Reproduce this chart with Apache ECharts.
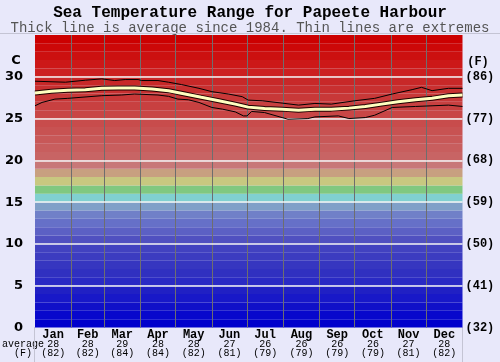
<!DOCTYPE html>
<html>
<head>
<meta charset="utf-8">
<script src="https://cdn.jsdelivr.net/npm/echarts@6/dist/echarts.min.js"></script>
<style>
html,body{margin:0;padding:0;background:#e8e8fa;}
#chart{width:500px;height:362px;}
</style>
</head>
<body>
<div id="chart"></div>
<script>
// ---- data ----
const months = ['Jan','Feb','Mar','Apr','May','Jun','Jul','Aug','Sep','Oct','Nov','Dec'];
const monthDays = [31,28,31,30,31,30,31,31,30,31,30,31];
const avgC = [28,28,29,28,28,27,26,26,26,26,27,28];
const avgF = [82,82,84,84,82,81,79,79,79,79,81,82];
const cTickLabels = ['0','5','10','15','20','25','30'];
const fTickLabels = ['(32)','(41)','(50)','(59)','(68)','(77)','(86)'];

const upperDay  = [0,26,43,57,68,77,88,91,105,114,125,140,151,165,177,182,194,211,225,239,253,273,290,305,322,330,339,353,365];
const upperTemp = [29.47,29.35,29.59,29.75,29.55,29.67,29.67,29.55,29.55,29.35,29.07,28.62,28.22,27.94,27.62,27.21,27.13,26.85,26.61,26.81,26.73,27.13,27.42,27.94,28.46,28.74,28.34,28.62,28.62];

const meanDay  = [0,14,28,43,57,71,85,100,114,128,142,157,171,182,196,211,225,239,253,268,282,296,310,325,339,353,365];
const meanTemp = [28.06,28.26,28.38,28.46,28.62,28.66,28.66,28.54,28.34,27.94,27.54,27.13,26.73,26.37,26.21,26.13,26.01,26.13,26.13,26.25,26.45,26.73,27.01,27.25,27.42,27.74,27.82];

const lowerDay  = [0,6,17,28,57,74,85,105,114,122,131,140,151,160,171,178,181,185,196,211,216,233,239,259,268,282,290,305,325,339,353,365];
const lowerTemp = [26.53,26.93,27.33,27.42,27.74,27.82,27.94,27.82,27.66,27.33,27.25,26.93,26.33,26.13,25.80,25.32,25.32,25.85,25.72,25.12,24.92,25.00,25.20,25.32,25.00,25.12,25.40,26.33,26.45,26.53,26.61,26.45];

// ---- styles ----
const bandColors = [
 '#0000cc','#0808cc','#1010c8','#1818c8','#2020c4',
 '#2a2ac4','#3030c0','#3636c0','#3c3cc0','#4242c0',
 '#5050c0','#5c60c4','#6670c8','#7080c8','#80a0c8',
 '#80d0d0','#80c880','#c8c880','#c8a080','#c87878',
 '#c86464','#c85e5e','#c85858','#c85252','#c84c4c',
 '#c84646','#c84040','#c83838','#c83030','#c82828',
 '#cc2020','#cc1818','#cc1010','#cc0808','#cc0000'
];
const MONO = "'Liberation Mono','Courier New',monospace";
const SANS = "'DejaVu Sans',sans-serif";

const bounds = [];
const mids = [];
let acc = 0;
monthDays.forEach((d,i)=>{ mids.push(acc + d/2); acc += d; if (i < 11) bounds.push(acc); });

const zip = (a,b)=>a.map((v,i)=>[v,b[i]]);

const chart = echarts.init(document.getElementById('chart'), null, {renderer:'canvas'});
const option = {
  backgroundColor:'#e8e8fa',
  animation:false,
  grid:{left:35, right:37.5, top:35, bottom:34.5, containLabel:false},
  xAxis:{
    type:'value', min:0, max:365,
    axisLine:{show:false}, axisTick:{show:false}, splitLine:{show:false},
    axisLabel:{
      customValues: mids,
      margin:2,
      formatter:(v)=>{
        const i = mids.findIndex(m=>Math.abs(m-v)<0.01);
        if (i<0) return '';
        return '{m|'+months[i]+'}\n{v|'+avgC[i]+'}\n{v|('+avgF[i]+')}';
      },
      rich:{
        m:{fontFamily:MONO, fontWeight:'bold', fontSize:12, color:'#000', lineHeight:10},
        v:{fontFamily:MONO, fontSize:10, color:'#000', lineHeight:9.5}
      }
    }
  },
  yAxis:[{
    type:'value', min:0, max:35, interval:5, position:'left',
    axisLine:{show:false}, axisTick:{show:false}, splitLine:{show:false},
    axisLabel:{formatter:(v)=> (v/5<cTickLabels.length ? cTickLabels[v/5] : ''), fontFamily:SANS, fontWeight:'bold', fontSize:13, color:'#000', margin:12}
  },{
    type:'value', min:0, max:35, interval:5, position:'right',
    axisLine:{show:false}, axisTick:{show:false}, splitLine:{show:false},
    axisLabel:{formatter:(v)=> (v/5<fTickLabels.length ? fTickLabels[v/5] : ''), fontFamily:MONO, fontWeight:'bold', fontSize:12, color:'#000', margin:3}
  }],
  series:[
    {
      type:'line', z:1, silent:true, symbol:'none', data:[[0,0],[365,0]], lineStyle:{width:0, opacity:0},
      markArea:{silent:true, data: bandColors.map((c,i)=>[{yAxis:i, itemStyle:{color:c}},{yAxis:i+1}])}
    },
    {
      type:'line', z:2, silent:true, symbol:'none', data:[[0,0],[365,0]], lineStyle:{width:0, opacity:0},
      markLine:{silent:true, symbol:'none', label:{show:false}, animation:false,
        data: [
          ...bounds.map(b=>({xAxis:b, lineStyle:{color:'#6e6e6e', width:1, type:'solid'}})),
          ...[5,10,15,20,25,30].map(y=>({yAxis:y, lineStyle:{color:'#f4f4f4', width:1.5, type:'solid'}}))
        ]}
    },
    {type:'line', z:5, silent:true, symbol:'none', data:zip(upperDay,upperTemp), lineStyle:{color:'#000', width:1}},
    {type:'line', z:5, silent:true, symbol:'none', data:zip(lowerDay,lowerTemp), lineStyle:{color:'#000', width:1}},
    {type:'line', z:6, silent:true, symbol:'none', data:zip(meanDay,meanTemp), lineStyle:{color:'#200000', width:5}},
    {type:'line', z:7, silent:true, symbol:'none', data:zip(meanDay,meanTemp), lineStyle:{color:'#ffffc0', width:3}}
  ],
  graphic:[
    {type:'text', left:'center', top:5, style:{text:'Sea Temperature Range for Papeete Harbour', font:"bold 16px "+MONO, fill:'#000'}},
    {type:'text', left:'center', top:21, style:{text:'Thick line is average since 1984. Thin lines are extremes', font:"14px "+MONO, fill:'#555'}},
    {type:'text', x:16, y:61, style:{text:'C', font:"bold 13px "+SANS, fill:'#000', textAlign:'center', textVerticalAlign:'middle'}},
    {type:'text', x:478, y:62, style:{text:'(F)', font:"bold 12px "+MONO, fill:'#000', textAlign:'center', textVerticalAlign:'middle'}},
    {type:'text', x:23, y:344, style:{text:'average', font:"10px "+MONO, fill:'#000', textAlign:'center', textVerticalAlign:'middle'}},
    {type:'text', x:23, y:353, style:{text:'(F)', font:"10px "+MONO, fill:'#000', textAlign:'center', textVerticalAlign:'middle'}},
    {type:'line', shape:{x1:0, y1:33.5, x2:500, y2:33.5}, style:{stroke:'#c4c4d4', lineWidth:1}},
    {type:'line', shape:{x1:34.5, y1:327, x2:34.5, y2:362}, style:{stroke:'#c4c4d4', lineWidth:1}},
    {type:'line', shape:{x1:462.5, y1:327, x2:462.5, y2:362}, style:{stroke:'#c4c4d4', lineWidth:1}}
  ]
};
chart.setOption(option);
</script>
</body>
</html>
